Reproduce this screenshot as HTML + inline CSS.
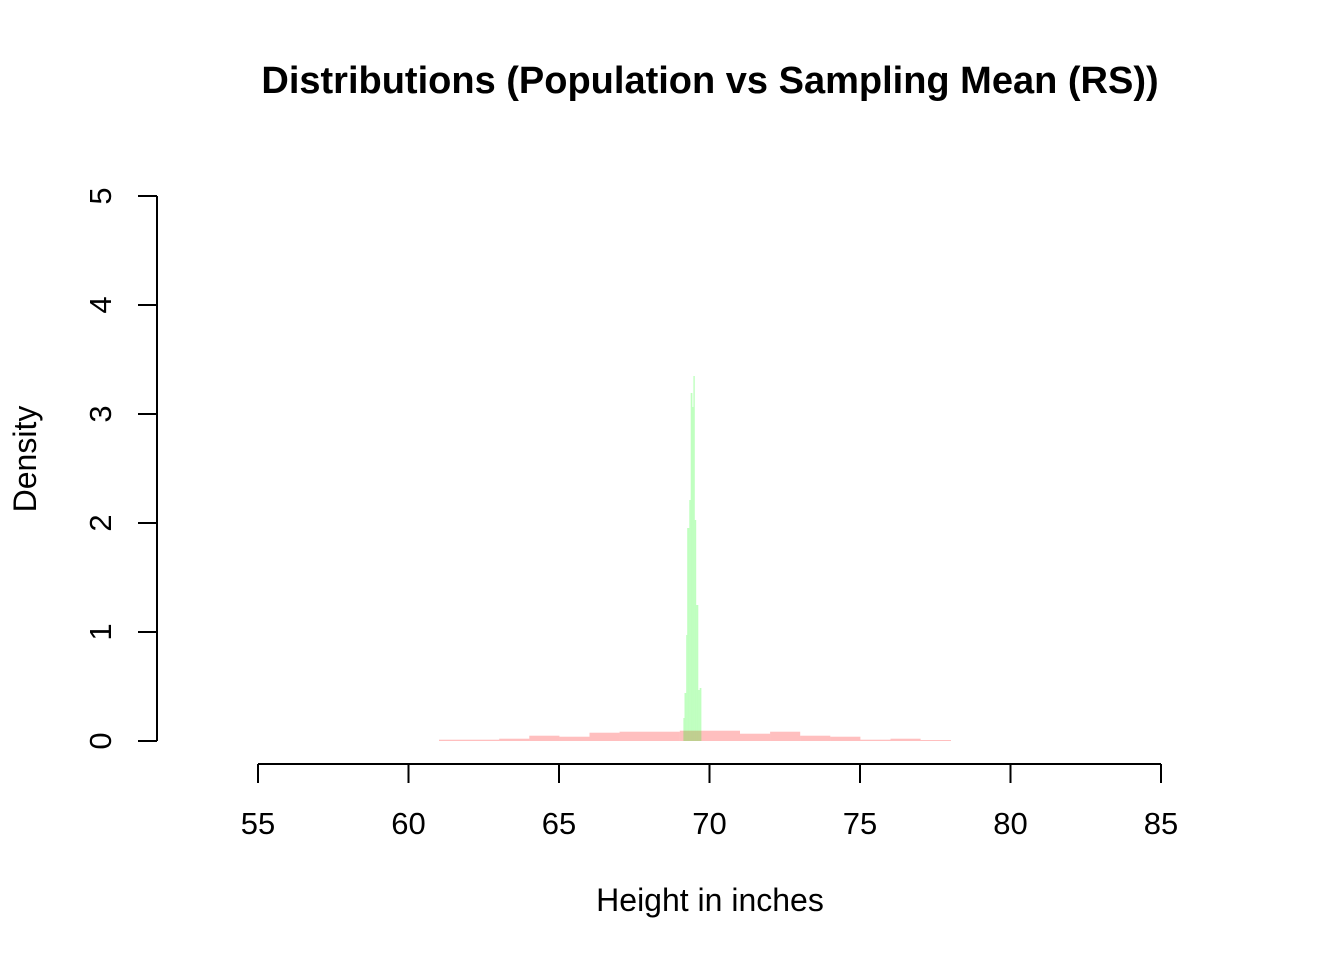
<!DOCTYPE html>
<html><head><meta charset="utf-8"><style>
html,body{margin:0;padding:0;background:#fff;}
svg{display:block;font-family:"Liberation Sans",Arial,sans-serif;}
</style></head><body>
<svg width="1344" height="960" viewBox="0 0 1344 960" xmlns="http://www.w3.org/2000/svg">
<rect width="1344" height="960" fill="#fff"/>
<text x="710" y="93" text-anchor="middle" font-size="38" font-weight="bold">Distributions (Population vs Sampling Mean (RS))</text>
<g fill="rgba(255,0,0,0.25)">
<rect x="439" y="739.7" width="60.2" height="1.3"/>
<rect x="499.2" y="738.7" width="30.1" height="2.3"/>
<rect x="529.3" y="735.7" width="30.1" height="5.3"/>
<rect x="559.4" y="736.7" width="30.1" height="4.3"/>
<rect x="589.5" y="732.7" width="30.1" height="8.3"/>
<rect x="619.6" y="731.7" width="60.2" height="9.3"/>
<rect x="679.8" y="730.7" width="60.2" height="10.3"/>
<rect x="740" y="733.7" width="30.1" height="7.3"/>
<rect x="770.1" y="731.7" width="30.1" height="9.3"/>
<rect x="800.2" y="735.7" width="30.1" height="5.3"/>
<rect x="830.3" y="736.7" width="30.1" height="4.3"/>
<rect x="860.4" y="739.7" width="30.1" height="1.3"/>
<rect x="890.5" y="738.7" width="30.1" height="2.3"/>
<rect x="920.6" y="740" width="30.4" height="1"/>
</g>
<g fill="rgba(0,255,0,0.25)">
<rect x="683.4" y="718" width="1.1" height="23"/>
<rect x="684.5" y="693" width="1.7" height="48"/>
<rect x="686.2" y="635" width="1" height="106"/>
<rect x="687.2" y="528" width="2.1" height="213"/>
<rect x="689.3" y="500" width="1.4" height="241"/>
<rect x="690.7" y="393" width="1.7" height="348"/>
<rect x="692.4" y="407" width="1" height="334"/>
<rect x="693.4" y="376" width="1.4" height="365"/>
<rect x="694.8" y="520" width="1.4" height="221"/>
<rect x="696.2" y="605" width="2.1" height="136"/>
<rect x="698.3" y="690" width="1.4" height="51"/>
<rect x="699.7" y="688" width="1.7" height="53"/>
</g>
<g stroke="#000" stroke-width="2" fill="none">
<path d="M157 196V741M138 196H157M138 305H157M138 414H157M138 523H157M138 632H157M138 741H157"/>
<path d="M258 764H1161M258 764V783M408.5 764V783M559 764V783M709.5 764V783M860 764V783M1010.5 764V783M1161 764V783"/>
</g>
<g font-size="31" text-anchor="middle">
<text x="258" y="834">55</text><text x="408.5" y="834">60</text><text x="559" y="834">65</text><text x="709.5" y="834">70</text><text x="860" y="834">75</text><text x="1010.5" y="834">80</text><text x="1161" y="834">85</text>
<text transform="translate(111,196) rotate(-90)">5</text>
<text transform="translate(111,305) rotate(-90)">4</text>
<text transform="translate(111,414) rotate(-90)">3</text>
<text transform="translate(111,523) rotate(-90)">2</text>
<text transform="translate(111,632) rotate(-90)">1</text>
<text transform="translate(111,741) rotate(-90)">0</text>
</g>
<g font-size="32" text-anchor="middle">
<text x="710" y="911">Height in inches</text>
<text transform="translate(36,459) rotate(-90)">Density</text>
</g>
</svg>
</body></html>
